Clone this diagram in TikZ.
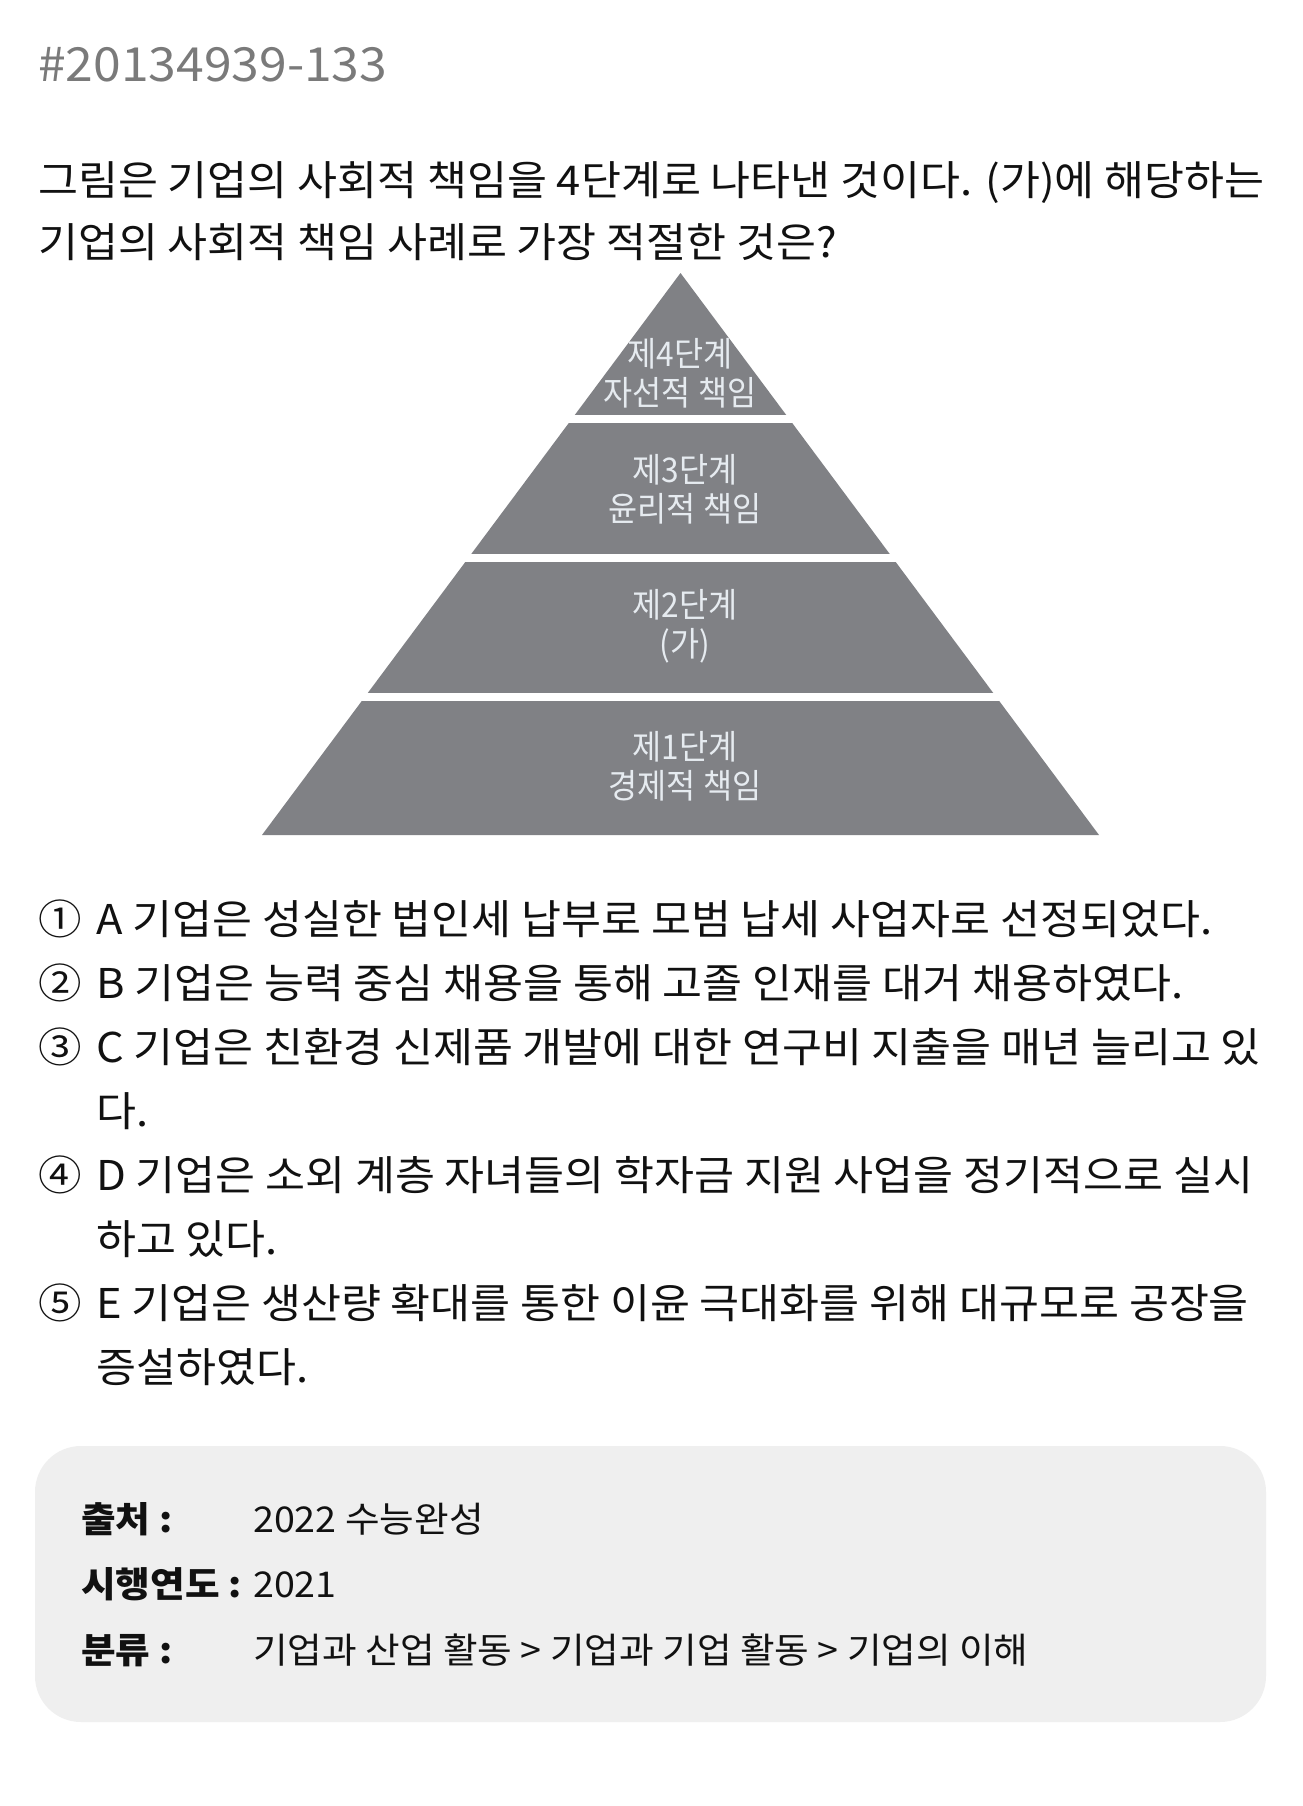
\documentclass[tikz,border=0pt]{standalone}
\usepackage{fontspec}
\setmainfont[FakeStretch=1.06]{Noto Sans CJK KR}
\newfontfamily\krc[FakeStretch=0.93]{Noto Sans CJK KR}
\definecolor{pyr}{HTML}{808185}
\definecolor{pyrtext}{HTML}{E6EBF0}
\definecolor{hdr}{HTML}{7A7A7A}
\definecolor{boxbg}{HTML}{EFEFEF}
\definecolor{ink}{HTML}{111111}
\begin{document}
\begin{tikzpicture}[x=1pt,y=-1pt,
  hdrtext/.style={anchor=base west, inner sep=0pt, text=hdr, font=\fontsize{47}{56}\selectfont},
  qtext/.style={anchor=base west, inner sep=0pt, text=ink, font=\fontsize{41}{48}\selectfont},
  opttext/.style={anchor=base west, inner sep=0pt, text=ink, font=\fontsize{41}{48}\selectfont},
  tiertext/.style={align=center, inner sep=0pt, text=pyrtext, font=\krc\fontsize{34}{39}\selectfont},
  infolabel/.style={anchor=base west, inner sep=0pt, text=ink, font=\bfseries\fontsize{35.5}{42}\selectfont},
  infovalue/.style={anchor=base west, inner sep=0pt, text=ink, font=\fontsize{35.5}{42}\selectfont},
  gap/.style={fill=white},
]
\useasboundingbox[fill=white] (0,0) rectangle (1302,1806);

% header
\node[hdrtext] (hdr) at (38,82) {\#20134939-133};

% question
\node[qtext] (q1) at (38,196) {그림은 기업의 사회적 책임을 4단계로 나타낸 것이다. (가)에 해당하는};
\node[qtext] (q2) at (38,257) {기업의 사회적 책임 사례로 가장 적절한 것은?};

% pyramid
\fill[pyr] (680.5,273) -- (262,835) -- (1099,835) -- cycle;
\fill[gap] (200,415) rectangle (1160,423);
\fill[gap] (200,554) rectangle (1160,562);
\fill[gap] (200,693) rectangle (1160,701);

\node[tiertext] (t4) at (680,373) {제4단계\\자선적 책임};
\node[tiertext] (t3) at (685,489) {제3단계\\윤리적 책임};
\node[tiertext] (t2) at (685,626) {제2단계\\(가)};
\node[tiertext] (t1) at (685,766) {제1단계\\경제적 책임};

% options
\node[opttext] (n1) at (38,934) {①};
\node[opttext] (o1) at (96,934) {A 기업은 성실한 법인세 납부로 모범 납세 사업자로 선정되었다.};
\node[opttext] (n2) at (38,998) {②};
\node[opttext] (o2) at (96,998) {B 기업은 능력 중심 채용을 통해 고졸 인재를 대거 채용하였다.};
\node[opttext] (n3) at (38,1062) {③};
\node[opttext] (o3) at (96,1062) {C 기업은 친환경 신제품 개발에 대한 연구비 지출을 매년 늘리고 있};
\node[opttext] (o3b) at (96,1126) {다.};
\node[opttext] (n4) at (38,1190) {④};
\node[opttext] (o4) at (96,1190) {D 기업은 소외 계층 자녀들의 학자금 지원 사업을 정기적으로 실시};
\node[opttext] (o4b) at (96,1254) {하고 있다.};
\node[opttext] (n5) at (38,1318) {⑤};
\node[opttext] (o5) at (96,1318) {E 기업은 생산량 확대를 통한 이윤 극대화를 위해 대규모로 공장을};
\node[opttext] (o5b) at (96,1382) {증설하였다.};

% info box
\fill[boxbg, rounded corners=46pt] (35,1446) rectangle (1266,1722);
\node[infolabel] (l1) at (81,1532) {출처 :};
\node[infovalue] (v1) at (253,1532) {2022 수능완성};
\node[infolabel] (l2) at (81,1597) {시행연도 :};
\node[infovalue] (v2) at (253,1597) {2021};
\node[infolabel] (l3) at (81,1663) {분류 :};
\node[infovalue] (v3) at (253,1663) {기업과 산업 활동 > 기업과 기업 활동 > 기업의 이해};
\end{tikzpicture}
\end{document}
